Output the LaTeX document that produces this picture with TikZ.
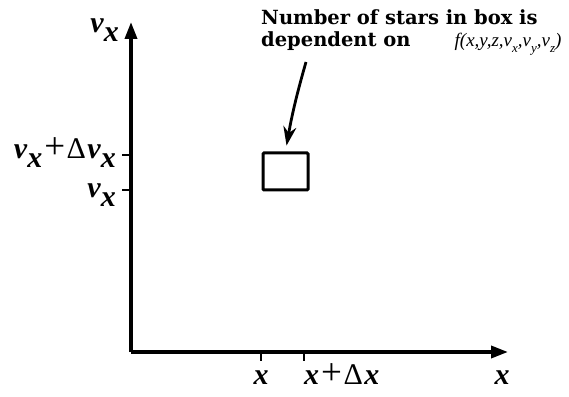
\documentclass[tikz,border=0pt]{standalone}
\usepackage{fontspec}
\setmainfont{DejaVu Serif}
\newfontfamily\axfont{Liberation Serif}
\usetikzlibrary{arrows.meta}
\newcommand{\ax}[1]{{\axfont\bfseries\itshape #1}}
\newcommand{\up}[1]{{\axfont #1}}
\newcommand{\lo}[1]{\raisebox{-0.3em}{#1}}
\newcommand{\vx}{\ax{v}\lo{\ax{x}}}
\newcommand{\plusdelta}{\kern2pt\up{\fontsize{37}{37}\selectfont+}\kern2pt\up{\symbol{"2206}}\kern2pt}
\newcommand{\lv}[1]{{\axfont\itshape v}\lo{\fontsize{13}{14}\selectfont\axfont\itshape #1}}

\begin{document}
\begin{tikzpicture}[x=1pt,y=1pt,
  axis/.style={line width=3.6pt,-{Triangle[length=17pt,width=12pt]}},
  tick/.style={line width=1.6pt},
  lab/.style={font=\fontsize{30}{32}\selectfont,inner sep=0pt},
  cell/.style={draw,line width=3pt,rounded corners=1pt,minimum width=45pt,
    minimum height=37pt,inner sep=0pt},
  note/.style={font=\fontsize{19.5}{22}\selectfont\bfseries,align=left,inner sep=0pt},
  pointer/.style={line width=2.8pt,-{Stealth[length=19pt,width=13pt]}}]

  \useasboundingbox (0,0) rectangle (569,396);

  % axes
  \coordinate (O) at (131,44);
  \coordinate (ytop) at (131,374);
  \coordinate (xend) at (508,44);
  \draw[axis] (O) -- (ytop);
  \draw[axis] (O) -- (xend);

  % ticks
  \draw[tick] (261,44) -- (261,35);
  \draw[tick] (304,44) -- (304,35);
  \draw[tick] (131,241) -- (122,241);
  \draw[tick] (131,206) -- (122,206);

  % labels
  \node[lab,anchor=base east] (vxtop) at (119,363) {\vx};
  \node[lab,anchor=base east] (vxhi) at (116,237) {\vx\plusdelta\vx};
  \node[lab,anchor=base east] (vxlo) at (116,198) {\vx};
  \node[lab,anchor=base] (xlo) at (261,12) {\ax{x}};
  \node[lab,anchor=base west] (xhi) at (304,12) {\ax{x}\plusdelta\ax{x}};
  \node[lab,anchor=base] (xaxis) at (502,12) {\ax{x}};

  % the phase-space cell
  \node[cell] (box) at (285.5,224.5) {};

  \node[note,anchor=base west] (text) at (261,349)
    {Number of stars in box is\\
     dependent on\hspace{44pt}{\mdseries\fontsize{19}{20}\selectfont\axfont\itshape
     f(x,y,z,\lv{x},\lv{y},\lv{z})}};

  \coordinate (tail) at (306,334);
  \draw[pointer,shorten >=6pt] (tail) to[out=-106,in=80] (box.north);
\end{tikzpicture}
\end{document}
